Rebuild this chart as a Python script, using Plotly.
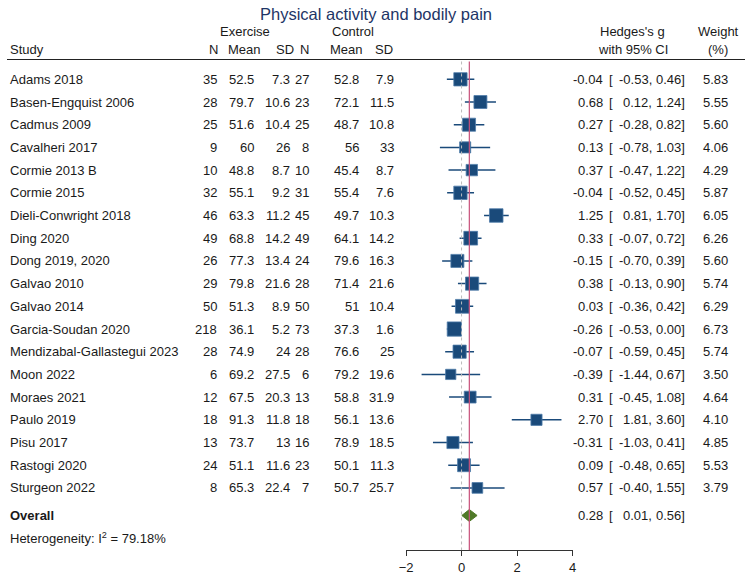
import plotly.graph_objects as go
import math

studies = ["Adams 2018", "Basen-Engquist 2006", "Cadmus 2009", "Cavalheri 2017", "Cormie 2013 B",
           "Cormie 2015", "Dieli-Conwright 2018", "Ding 2020", "Dong 2019, 2020", "Galvao 2010",
           "Galvao 2014", "Garcia-Soudan 2020", "Mendizabal-Gallastegui 2023", "Moon 2022",
           "Moraes 2021", "Paulo 2019", "Pisu 2017", "Rastogi 2020", "Sturgeon 2022"]
ex_n = [35, 28, 25, 9, 10, 32, 46, 49, 26, 29, 50, 218, 28, 6, 12, 18, 13, 24, 8]
ex_mean = ["52.5", "79.7", "51.6", "60", "48.8", "55.1", "63.3", "68.8", "77.3", "79.8", "51.3", "36.1",
           "74.9", "69.2", "67.5", "91.3", "73.7", "51.1", "65.3"]
ex_sd = ["7.3", "10.6", "10.4", "26", "8.7", "9.2", "11.2", "14.2", "13.4", "21.6", "8.9", "5.2",
         "24", "27.5", "20.3", "11.8", "13", "11.6", "22.4"]
ct_n = [27, 23, 25, 8, 10, 31, 45, 49, 24, 28, 50, 73, 28, 6, 13, 18, 16, 23, 7]
ct_mean = ["52.8", "72.1", "48.7", "56", "45.4", "55.4", "49.7", "64.1", "79.6", "71.4", "51", "37.3",
           "76.6", "79.2", "58.8", "56.1", "78.9", "50.1", "50.7"]
ct_sd = ["7.9", "11.5", "10.8", "33", "8.7", "7.6", "10.3", "14.2", "16.3", "21.6", "10.4", "1.6",
         "25", "19.6", "31.9", "13.6", "18.5", "11.3", "25.7"]
g = [-0.04, 0.68, 0.27, 0.13, 0.37, -0.04, 1.25, 0.33, -0.15, 0.38, 0.03, -0.26, -0.07, -0.39,
     0.31, 2.70, -0.31, 0.09, 0.57]
lo = [-0.53, 0.12, -0.28, -0.78, -0.47, -0.52, 0.81, -0.07, -0.70, -0.13, -0.36, -0.53, -0.59,
      -1.44, -0.45, 1.81, -1.03, -0.48, -0.40]
hi = [0.46, 1.24, 0.82, 1.03, 1.22, 0.45, 1.70, 0.72, 0.39, 0.90, 0.42, 0.00, 0.45, 0.67,
      1.08, 3.60, 0.41, 0.65, 1.55]
weight = [5.83, 5.55, 5.60, 4.06, 4.29, 5.87, 6.05, 6.26, 5.60, 5.74, 6.29, 6.73, 5.74, 3.50,
          4.64, 4.10, 4.85, 5.53, 3.79]
overall = {"g": 0.28, "lo": 0.01, "hi": 0.56}
heterogeneity = "79.18%"
x_ticks = [-2, 0, 2, 4]

W, H = 749, 575
ROW0, STEP = 80, 22.9
AXIS_Y = 555
OVERALL_Y = 520
HET_Y = 543
FONT = "Liberation Sans, Arial, sans-serif"
FS = 13
TXT = "#1a1a1a"
NAVY = "#1a4a7a"
GREEN = "#4f7a28"
RED = "#c9507a"

rows_y = [ROW0 + STEP * i for i in range(len(studies))]

fig = go.Figure()

cx, cy = [], []
for l, h, y in zip(lo, hi, rows_y):
    cx += [l, h, None]
    cy += [y, y, None]
fig.add_trace(go.Scatter(x=cx, y=cy, mode="lines", line=dict(color=NAVY, width=1.5),
                         hoverinfo="skip", showlegend=False))
fig.add_trace(go.Scatter(x=g, y=rows_y, mode="markers",
                         marker=dict(symbol="square", size=[5.5 * math.sqrt(w) for w in weight],
                                     color=NAVY, opacity=1,
                                     line=dict(color="#4f7caa", width=0.8)),
                         showlegend=False, hoverinfo="skip"))
dh = 6
fig.add_trace(go.Scatter(x=[overall["lo"], overall["g"], overall["hi"], overall["g"], overall["lo"]],
                         y=[OVERALL_Y, OVERALL_Y - dh, OVERALL_Y, OVERALL_Y + dh, OVERALL_Y],
                         mode="lines", fill="toself", fillcolor=GREEN,
                         line=dict(color=GREEN, width=1), showlegend=False, hoverinfo="skip"))

shapes = [
    dict(type="line", xref="paper", yref="y", x0=0, x1=1, y0=60, y1=60,
         line=dict(color="#222222", width=1.2)),
    dict(type="line", xref="x", yref="y", x0=0, x1=0, y0=62, y1=AXIS_Y,
         line=dict(color="#bbbbbb", width=1, dash="dot")),
    dict(type="line", xref="x", yref="y", x0=overall["g"], x1=overall["g"], y0=62, y1=AXIS_Y,
         line=dict(color=RED, width=1.2)),
]

ann = []
def T(x, y, text, anchor="right", size=FS, color=TXT, bold=False):
    if bold:
        text = "<b>" + text + "</b>"
    ann.append(dict(x=x / W, y=y, xref="paper", yref="y", text=text, showarrow=False,
                    xanchor=anchor, yanchor="middle",
                    font=dict(family=FONT, size=size, color=color)))

T(W / 2, 14, "Physical activity and bodily pain", anchor="center", size=16.5, color="#1e3566")
T(242, 32, "Exercise", "center")
T(351, 32, "Control", "center")
T(1, 50, "Study", "left")
for xh, t in zip([216, 260, 293, 309, 363, 394], ["N", "Mean", "SD", "N", "Mean", "SD"]):
    T(xh, 50, t)
T(635, 32, "Hedges's g", "center")
T(635, 50, "with 95% CI", "center")
T(722, 32, "Weight", "center")
T(722, 50, "(%)", "center")

def ci_texts(y, gv, lv, hv):
    T(607, y, f"{gv:.2f}")
    T(609, y, "[", "left")
    T(657, y, f"{lv:.2f},")
    T(690, y, f"{hv:.2f}]")

for i, y in enumerate(rows_y):
    T(1, y, studies[i], "left")
    T(215, y, str(ex_n[i]))
    T(253, y, ex_mean[i])
    T(289, y, ex_sd[i])
    T(309, y, str(ct_n[i]))
    T(359, y, ct_mean[i])
    T(395, y, ct_sd[i])
    ci_texts(y, g[i], lo[i], hi[i])
    T(734, y, f"{weight[i]:.2f}")

T(1, OVERALL_Y, "Overall", "left", bold=True)
ci_texts(OVERALL_Y, overall["g"], overall["lo"], overall["hi"])
T(1, HET_Y, "Heterogeneity: I<sup>2</sup> = " + heterogeneity, "left")

fig.update_layout(
    width=W, height=H, margin=dict(l=0, r=0, t=0, b=0),
    paper_bgcolor="white", plot_bgcolor="white",
    xaxis=dict(domain=[405 / W, 574 / W], range=[-2, 4], tickvals=x_ticks,
               ticks="outside", ticklen=5, tickcolor="#333333", showline=True,
               linecolor="#333333", linewidth=1, showgrid=False, zeroline=False,
               tickfont=dict(family=FONT, size=FS, color=TXT)),
    yaxis=dict(domain=[1 - AXIS_Y / H, 1], range=[AXIS_Y, 0], visible=False,
               showgrid=False, zeroline=False),
    shapes=shapes, annotations=ann, showlegend=False,
)
fig.write_html("out.html", config={"displayModeBar": False},
               post_script="document.body.style.margin='0';document.body.style.padding='0';")
